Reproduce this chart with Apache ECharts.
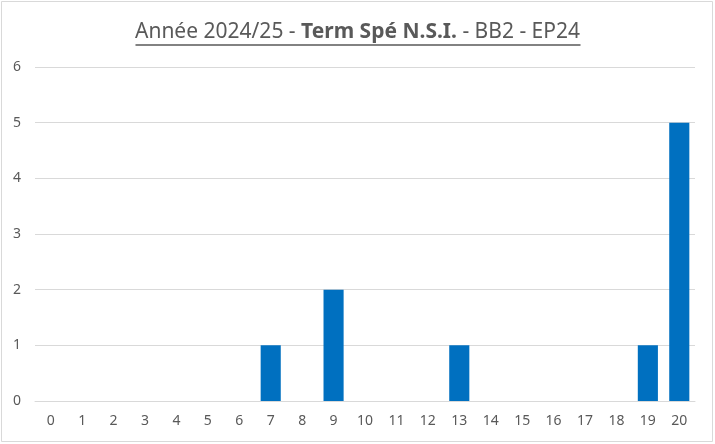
<!DOCTYPE html>
<html><head><meta charset="utf-8">
<script src="https://cdn.jsdelivr.net/npm/echarts@6/dist/echarts.min.js"></script>
<style>html,body{margin:0;padding:0;background:#fff}#c{width:715px;height:444px}</style>
</head><body><div id="c"></div>
<script>
const categories = ['0','1','2','3','4','5','6','7','8','9','10','11','12','13','14','15','16','17','18','19','20'];
const counts = [0,0,0,0,0,0,0,1,0,2,0,0,0,1,0,0,0,0,0,1,5];
const yTicks = [0,1,2,3,4,5,6];

const FONT = '"Noto Sans", "Liberation Sans", sans-serif';
const titleParts = [['Année 2024/25 - ', 'n'], ['Term Spé N.S.I.', 'b'], [' - BB2 - EP24', 'n']];
const titleSize = 21;
const cv = document.createElement('canvas').getContext('2d');
let tw = 0;
titleParts.forEach(p => { cv.font = (p[1]==='b'?'bold ':'normal ') + titleSize + 'px ' + FONT; tw += cv.measureText(p[0]).width; });
const cx = 358;

const chart = echarts.init(document.getElementById('c'), null, {renderer:'canvas'});
chart.setOption({
  animation:false,
  backgroundColor:'#fff',
  title:{
    text: titleParts.map(p => '{' + p[1] + '|' + p[0] + '}').join(''),
    left: 'center', top: 17,
    textStyle:{ fontWeight:'normal', rich:{
      n:{fontFamily:FONT, fontSize:titleSize, color:'#595959', fontWeight:'normal'},
      b:{fontFamily:FONT, fontSize:titleSize, color:'#595959', fontWeight:'bold'}
    }}
  },
  graphic:[
    {type:'rect', shape:{x:1.5,y:1.5,width:711,height:440}, style:{fill:null, stroke:'#D9D9D9', lineWidth:1}, silent:true},
    {type:'line', shape:{x1:cx - tw/2, y1:45, x2:cx + tw/2, y2:45}, style:{stroke:'#595959', lineWidth:1.5}, silent:true}
  ],
  grid:{left:35, right:20, top:67, bottom:43, containLabel:false},
  xAxis:{
    type:'category', data:categories,
    axisLine:{lineStyle:{color:'#D9D9D9'}}, axisTick:{show:false},
    axisLabel:{color:'#595959', fontFamily:FONT, fontSize:14, margin:13, interval:0}
  },
  yAxis:{
    type:'value', min:yTicks[0], max:yTicks[yTicks.length-1], interval:1,
    axisLine:{show:false}, axisTick:{show:false},
    splitLine:{lineStyle:{color:'#D9D9D9'}},
    axisLabel:{color:'#595959', fontFamily:FONT, fontSize:14, margin:14}
  },
  series:[{type:'bar', data:counts, barWidth:'64%', itemStyle:{color:'#0070C0'}}]
});
</script></body></html>
